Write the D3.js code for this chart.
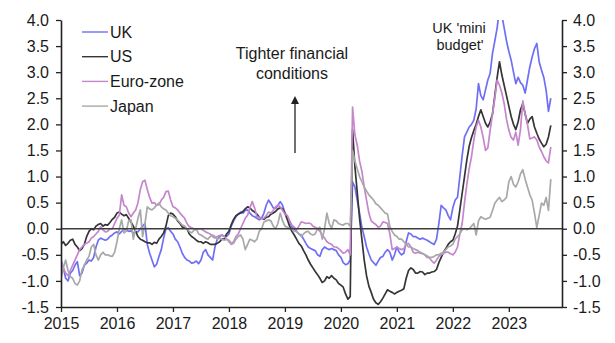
<!DOCTYPE html>
<html>
<head>
<meta charset="utf-8">
<script src="https://cdn.jsdelivr.net/npm/d3@7"></script>
<style>
  body { margin: 0; background: #fff; }
  svg text { font-family: "Liberation Sans", Arial, sans-serif; fill: #1a1a1a; }
</style>
</head>
<body>
<div class="chart"></div>
<script>
// financial conditions indices, half-monthly points from Jan 2015
var seriesNames = ["UK", "US", "Euro-zone", "Japan"];
var seriesColors = ["#6f6ff5", "#353535", "#c586cc", "#a8a8a8"];
var yearTicks = [2015, 2016, 2017, 2018, 2019, 2020, 2021, 2022, 2023];
var valueTicks = [-1.5, -1.0, -0.5, 0.0, 0.5, 1.0, 1.5, 2.0, 2.5, 3.0, 3.5, 4.0];

var ukValues = [
  -0.6, -0.75, -0.95, -1.0, -0.85, -0.8, -0.7, -0.63, -0.9, -0.85, -0.7, -0.66, -0.6, -0.62, -0.55, -0.35, -0.22, -0.18, -0.2, -0.22, -0.2, -0.15, -0.12, -0.08,
  -0.06, -0.1, -0.05, -0.02, -0.02, -0.05, -0.04, -0.08, -0.06, -0.06, 0.0, 0.05, 0.1, -0.3, -0.47, -0.6, -0.73, -0.68, -0.53, -0.4, -0.18, 0.0, 0.02, -0.05,
  -0.1, -0.2, -0.25, -0.35, -0.47, -0.55, -0.6, -0.62, -0.66, -0.65, -0.62, -0.67, -0.6, -0.45, -0.4, -0.5, -0.55, -0.6, -0.35, -0.2, -0.15, -0.12, -0.15, -0.15,
  -0.1, 0.05, 0.15, 0.23, 0.28, 0.32, 0.3, 0.35, 0.36, 0.3, 0.25, 0.23, 0.2, 0.17, 0.2, 0.3, 0.45, 0.55, 0.48, 0.4, 0.39, 0.45, 0.52, 0.45,
  0.3, 0.23, 0.15, 0.03, 0.0, -0.05, -0.1, -0.12, -0.2, -0.28, -0.35, -0.38, -0.4, -0.42, -0.5, -0.53, -0.4, -0.35, -0.38, -0.4, -0.38, -0.4, -0.42, -0.5,
  -0.55, -0.65, -0.69, -0.67, -0.6, 0.9, 0.8, 0.55, 0.3, 0.03, -0.15, -0.35, -0.48, -0.6, -0.65, -0.7, -0.62, -0.55, -0.53, -0.45, -0.4, -0.45, -0.6, -0.5,
  -0.35, -0.45, -0.5, -0.47, -0.25, -0.08, -0.1, -0.15, -0.15, -0.18, -0.2, -0.18, -0.2, -0.22, -0.25, -0.28, -0.3, -0.2, 0.1, 0.45, 0.4, 0.36, 0.25, 0.17,
  0.4, 0.55, 0.6, 1.0, 1.4, 1.76, 1.85, 1.95, 2.0, 2.08, 2.3, 2.78, 2.55, 2.47, 2.66, 2.85, 2.98, 3.36, 3.6, 3.85, 4.2, 4.1, 3.85, 3.6,
  3.4, 3.23, 3.0, 2.78, 2.9, 2.8, 2.75, 2.6, 2.85, 3.1, 3.29, 3.45, 3.55, 3.2, 3.04, 2.9, 2.65, 2.25, 2.5
];

var usValues = [
  -0.3, -0.25, -0.32, -0.28, -0.22, -0.2, -0.3, -0.35, -0.42, -0.38, -0.3, -0.15, -0.05, 0.0, -0.02, 0.05, 0.08, 0.1, 0.05, 0.08, 0.07, 0.12, 0.18, 0.22,
  0.3, 0.32, 0.28, 0.25, 0.27, 0.2, 0.13, 0.05, -0.05, -0.15, -0.2, -0.22, -0.25, -0.27, -0.27, -0.3, -0.26, -0.28, -0.2, -0.15, -0.08, 0.05, 0.25, 0.3,
  0.28, 0.23, 0.15, 0.1, 0.03, 0.02, 0.0, -0.1, -0.15, -0.18, -0.22, -0.25, -0.25, -0.28, -0.25, -0.27, -0.3, -0.3, -0.3, -0.28, -0.25, -0.2, -0.2, -0.1,
  -0.05, 0.08, 0.18, 0.25, 0.28, 0.3, 0.33, 0.38, 0.42, 0.4, 0.35, 0.32, 0.28, 0.22, 0.2, 0.18, 0.22, 0.23, 0.28, 0.3, 0.33, 0.38, 0.4, 0.38,
  0.3, 0.18, 0.05, -0.05, -0.12, -0.2, -0.28, -0.33, -0.42, -0.5, -0.6, -0.68, -0.75, -0.82, -0.88, -0.95, -1.03, -1.0, -0.92, -0.95, -0.9, -0.95, -0.98, -1.05,
  -1.08, -1.12, -1.25, -1.35, -1.3, 1.9, 1.2, 0.7, 0.2, -0.2, -0.6, -0.9, -1.1, -1.22, -1.35, -1.42, -1.45, -1.4, -1.33, -1.25, -1.17, -1.2, -1.22, -1.25,
  -1.22, -1.2, -1.18, -1.15, -0.95, -0.8, -0.75, -0.78, -0.85, -0.85, -0.82, -0.83, -0.88, -0.85, -0.85, -0.83, -0.82, -0.78, -0.65, -0.55, -0.45, -0.38, -0.3, -0.25,
  -0.22, -0.1, 0.05, 0.36, 0.68, 1.0, 1.32, 1.58, 1.75, 1.88, 2.0, 2.15, 2.28, 2.15, 2.02, 1.95, 2.05, 2.2, 2.55, 2.9, 3.2, 2.95, 2.75, 2.55,
  2.35, 2.15, 2.0, 1.9, 2.05, 2.28, 2.4, 2.2, 2.02, 2.1, 2.15, 1.95, 1.83, 1.72, 1.64, 1.57, 1.62, 1.76, 1.98
];

var ezValues = [
  -0.6, -0.75, -0.85, -0.9, -0.8, -0.7, -0.6, -0.5, -0.4, -0.35, -0.3, -0.28, -0.25, -0.18, -0.15, -0.1, -0.05, 0.04, -0.02, -0.06, -0.05, 0.0, 0.0, 0.1,
  0.2, 0.26, 0.65, 0.45, 0.42, 0.3, 0.23, 0.3, 0.36, 0.5, 0.75, 0.9, 0.93, 0.75, 0.6, 0.49, 0.5, 0.45, 0.46, 0.55, 0.6, 0.71, 0.72, 0.55,
  0.42, 0.4, 0.36, 0.3, 0.25, 0.2, 0.1, 0.04, 0.02, 0.0, -0.02, 0.0, 0.0, -0.03, -0.06, -0.08, -0.1, -0.15, -0.18, -0.15, -0.13, -0.12, -0.15, -0.2,
  -0.22, -0.28, -0.25, -0.15, -0.1, 0.0, 0.1, 0.2, 0.26, 0.4, 0.52, 0.4, 0.23, 0.22, 0.2, 0.2, 0.25, 0.32, 0.3, 0.35, 0.42, 0.45, 0.42, 0.35,
  0.28, 0.26, 0.15, 0.07, 0.03, -0.02, 0.05, 0.13, 0.12, 0.1, 0.11, 0.1, 0.05, 0.03, 0.0, -0.05, -0.12, -0.18, -0.25, -0.28, -0.3, -0.35, -0.35, -0.38,
  -0.42, -0.47, -0.45, -0.4, -0.5, 2.33, 1.8, 1.6, 1.3, 1.1, 0.8, 0.55, 0.3, 0.15, 0.11, 0.08, 0.03, 0.05, 0.13, 0.12, 0.1, -0.1, -0.4, -0.38,
  -0.35, -0.38, -0.4, -0.38, -0.3, -0.28, -0.35, -0.45, -0.47, -0.45, -0.47, -0.48, -0.5, -0.55, -0.56, -0.62, -0.66, -0.6, -0.53, -0.5, -0.47, -0.45, -0.45, -0.48,
  -0.5, -0.45, -0.35, -0.1, 0.1, 0.5, 0.85, 1.15, 1.38, 1.7, 1.95, 2.08, 1.95, 1.75, 1.5, 1.55, 1.89, 2.2, 2.5, 2.85, 2.75, 2.6, 2.4, 2.1,
  1.89, 1.75, 1.7, 1.85, 1.6, 1.9, 2.45, 2.2, 2.0, 1.72, 1.74, 1.76, 1.7, 1.57, 1.48, 1.38, 1.3, 1.26, 1.57
];

var jpValues = [
  -0.95, -0.75, -0.6, -0.8, -0.92, -0.95, -1.05, -1.08, -1.0, -0.79, -0.7, -0.6, -0.53, -0.35, -0.3, -0.5, -0.6, -0.5, -0.45, -0.5, -0.5, -0.52, -0.53, -0.45,
  -0.25, 0.0, 0.17, -0.08, -0.05, 0.15, 0.17, -0.2, 0.0, 0.2, 0.36, -0.15, 0.1, 0.42, 0.38, 0.36, 0.4, 0.45, 0.49, 0.42, 0.38, 0.36, 0.3, 0.25,
  0.23, 0.2, 0.17, 0.12, 0.07, 0.05, 0.0, -0.05, -0.08, -0.03, 0.0, -0.1, -0.12, -0.15, -0.18, -0.2, -0.15, -0.12, -0.15, -0.2, -0.18, -0.2, -0.22, -0.2,
  -0.25, -0.3, -0.28, -0.2, -0.15, -0.12, -0.2, -0.4, -0.3, -0.2, -0.22, -0.25, -0.2, -0.05, 0.0, 0.13, 0.15, 0.17, 0.15, 0.05, 0.0, 0.1, 0.3, 0.15,
  0.05, 0.03, 0.0, 0.0, -0.05, -0.05, -0.1, -0.15, -0.1, -0.06, -0.05, -0.1, -0.12, -0.1, 0.0, 0.03, -0.2, 0.0, 0.3, 0.1, 0.0, 0.17, 0.15, 0.1,
  0.08, 0.07, 0.1, 0.1, 0.05, 1.5, 1.3, 1.15, 1.0, 0.9, 0.8, 0.72, 0.65, 0.6, 0.55, 0.48, 0.45, 0.4, 0.35, 0.3, 0.28, 0.04, -0.05, -0.12,
  -0.15, -0.2, -0.2, -0.25, -0.3, -0.35, -0.35, -0.38, -0.4, -0.42, -0.45, -0.47, -0.5, -0.52, -0.55, -0.55, -0.53, -0.5, -0.5, -0.47, -0.45, -0.4, -0.35, -0.33,
  -0.3, -0.2, -0.15, -0.1, -0.02, 0.0, -0.02, 0.0, 0.05, 0.1, -0.12, 0.15, 0.23, 0.2, 0.18, 0.2, 0.22, 0.35, 0.49, 0.55, 0.6, 0.52, 0.55, 0.6,
  0.9, 1.0, 0.85, 0.8, 0.9, 1.05, 1.13, 0.95, 0.8, 0.65, 0.55, 0.3, 0.02, 0.25, 0.49, 0.45, 0.6, 0.35, 0.95
];

var allValues = [ukValues, usValues, ezValues, jpValues];
// each point is half a month after the previous one
var pointYears = d3.range(ukValues.length).map(i => 2015 + i / 24);

var W = 615, H = 343;
var plot = { left: 61, right: 562, top: 20, bottom: 307 };

var svg = d3.select(".chart")
  .append("svg")
  .attr("width", W)
  .attr("height", H);

var x = d3.scaleLinear()
  .domain([2015, 2023.95])
  .range([plot.left, plot.right]);

var y = d3.scaleLinear()
  .domain([-1.5, 4])
  .range([plot.bottom, plot.top]);

svg.append("clipPath")
  .attr("id", "plot-clip")
  .append("rect")
  .attr("x", plot.left)
  .attr("y", plot.top)
  .attr("width", plot.right - plot.left)
  .attr("height", plot.bottom - plot.top);

var line = d3.line()
  .x((d, i) => x(pointYears[i]))
  .y(d => y(d));

svg.append("g")
  .attr("clip-path", "url(#plot-clip)")
  .selectAll("path")
  .data(allValues)
  .enter()
  .append("path")
  .attr("d", line)
  .attr("fill", "none")
  .attr("stroke", (d, i) => seriesColors[i])
  .attr("stroke-width", 1.7)
  .attr("stroke-linejoin", "round");

// zero line
svg.append("line")
  .attr("x1", plot.left)
  .attr("x2", plot.right)
  .attr("y1", y(0))
  .attr("y2", y(0))
  .attr("stroke", "#3c3c3c")
  .attr("stroke-width", 1.6);

var fmt = d => d.toFixed(1);

function styleAxis(g) {
  g.select(".domain").attr("stroke", "#222").attr("stroke-width", 1.6);
  g.selectAll(".tick line").attr("stroke", "#222").attr("stroke-width", 1.3);
  g.selectAll("text")
    .attr("font-size", 16)
    .attr("font-family", "'Liberation Sans', Arial, sans-serif")
    .attr("fill", "#1a1a1a");
}

svg.append("g")
  .attr("transform", `translate(${plot.left},0)`)
  .call(d3.axisLeft(y).tickValues(valueTicks).tickFormat(fmt)
    .tickSizeInner(5).tickSizeOuter(0).tickPadding(7))
  .call(styleAxis);

svg.append("g")
  .attr("transform", `translate(${plot.right},0)`)
  .call(d3.axisRight(y).tickValues(valueTicks).tickFormat(fmt)
    .tickSizeInner(5).tickSizeOuter(0).tickPadding(6))
  .call(styleAxis);

svg.append("g")
  .attr("transform", `translate(0,${plot.bottom})`)
  .call(d3.axisBottom(x).tickValues(yearTicks).tickFormat(d3.format("d"))
    .tickSizeInner(5).tickSizeOuter(0).tickPadding(6))
  .call(styleAxis);

// legend
var legend = svg.append("g")
  .selectAll("g")
  .data(seriesNames)
  .enter()
  .append("g")
  .attr("transform", (d, i) => `translate(82,${32 + i * 24.7})`);

legend.append("line")
  .attr("x1", 0)
  .attr("x2", 26)
  .attr("stroke", (d, i) => seriesColors[i])
  .attr("stroke-width", 1.4);

legend.append("text")
  .attr("x", 28)
  .attr("dy", "0.35em")
  .attr("font-size", 16)
  .text(d => d);

// annotations
svg.append("text")
  .attr("x", 292)
  .attr("y", 59)
  .attr("text-anchor", "middle")
  .attr("font-size", 16)
  .text("Tighter financial");

svg.append("text")
  .attr("x", 292)
  .attr("y", 79)
  .attr("text-anchor", "middle")
  .attr("font-size", 16)
  .text("conditions");

svg.append("line")
  .attr("x1", 295)
  .attr("x2", 295)
  .attr("y1", 153)
  .attr("y2", 103)
  .attr("stroke", "#222")
  .attr("stroke-width", 1.3);

svg.append("path")
  .attr("d", "M295,96 L291,104 L299,104 Z")
  .attr("fill", "#222");

svg.append("text")
  .attr("x", 459)
  .attr("y", 33)
  .attr("text-anchor", "middle")
  .attr("font-size", 14.5)
  .text("UK 'mini");

svg.append("text")
  .attr("x", 460)
  .attr("y", 50)
  .attr("text-anchor", "middle")
  .attr("font-size", 14.5)
  .text("budget'");
</script>
</body>
</html>
